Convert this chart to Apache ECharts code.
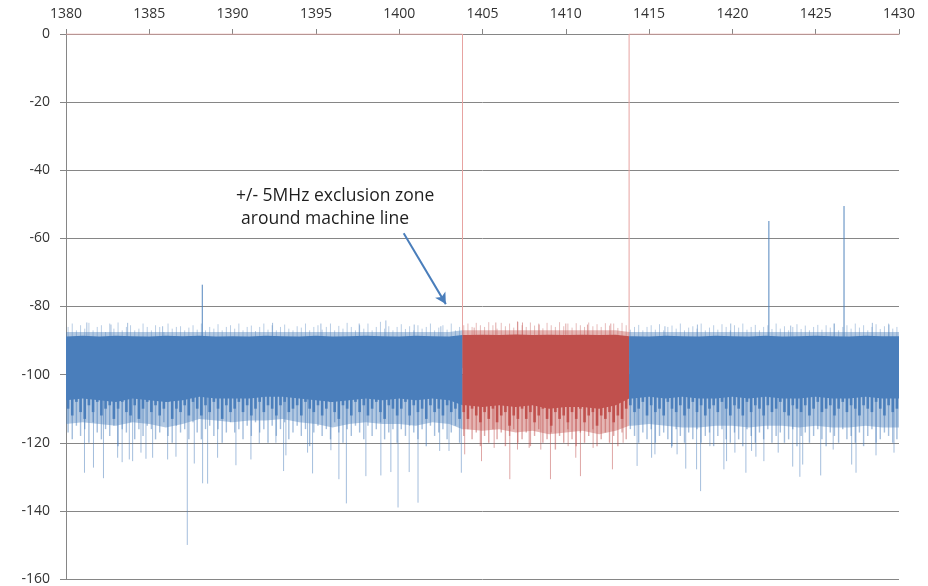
<!DOCTYPE html>
<html>
<head>
<meta charset="utf-8">
<script src="https://cdn.jsdelivr.net/npm/echarts@6/dist/echarts.min.js"></script>
<style>
  html, body { margin: 0; background: #fff; }
  #chart { width: 928px; height: 586px; }
</style>
</head>
<body>
<div id="chart"></div>
<script>
// frequency (MHz) sample points for the noise envelope
const envFreq = [1380, 1381, 1382, 1383, 1384, 1385, 1386, 1387, 1388, 1389,
  1390, 1391, 1392, 1393, 1394, 1395, 1396, 1397, 1398, 1399,
  1400, 1401, 1402, 1403, 1404, 1405, 1406, 1407, 1408, 1409,
  1410, 1411, 1412, 1413, 1414, 1415, 1416, 1417, 1418, 1419,
  1420, 1421, 1422, 1423, 1424, 1425, 1426, 1427, 1428, 1429, 1430];
// upper light edge, solid top, solid bottom, lower light edge (dB)
const fringeTop = [-87.5, -87.5, -87.5, -87.5, -87.5, -87.5, -87.5, -87.5, -87.5, -87.5,
  -87.5, -87.5, -87.5, -87.5, -87.5, -87.5, -87.5, -87.5, -87.5, -87.5,
  -87.5, -87.5, -87.5, -87.5, -87, -87, -87, -87, -87, -87,
  -87, -87, -87, -87, -87.5, -87.5, -87.5, -87.5, -87.5, -87.5,
  -87.5, -87.5, -87.5, -87.5, -87.5, -87.5, -87.5, -87.5, -87.5, -87.5, -87.5];
const coreTop = [-88.8, -88.6, -88.8, -88.6, -88.7, -88.8, -88.6, -88.7, -88.6, -88.8,
  -88.7, -88.8, -88.6, -88.7, -88.8, -88.6, -88.8, -88.7, -88.6, -88.7,
  -88.8, -88.6, -88.7, -88.8, -88.4, -88.3, -88.4, -88.2, -88.4, -88.3,
  -88.4, -88.3, -88.4, -88.3, -88.7, -88.8, -88.6, -88.7, -88.8, -88.6,
  -88.7, -88.8, -88.6, -88.8, -88.7, -88.6, -88.7, -88.8, -88.6, -88.7, -88.7];
const coreLow = [-107.5, -107, -107.5, -108, -107, -107.5, -108, -107.5, -106.5, -107,
  -107, -107, -106.5, -106.5, -107, -107.5, -108, -107.5, -107, -107.5,
  -107, -107.5, -107, -107.5, -109, -109.5, -109, -109.5, -109, -110,
  -109.5, -109.5, -110, -109, -107, -106.5, -107, -106.5, -107, -107,
  -106.5, -107, -106.5, -107, -107, -106.5, -107, -107, -106.5, -107, -107];
const fringeLow = [-114.5, -114, -114.5, -115, -114, -114.5, -115.5, -114.5, -113, -113.5,
  -114, -113.5, -113.5, -113, -114, -114.5, -115.5, -114.5, -114, -114.5,
  -114.5, -115, -114, -114.5, -116, -116.5, -116, -117, -116.5, -117.5,
  -117, -116.5, -117.5, -116.5, -115, -114.5, -115, -115.5, -115.5, -115,
  -115, -115.5, -115, -115, -115.5, -115, -115.5, -115.5, -115, -115.5, -115.5];

// line-by-line texture of the band edges, one value every 0.25 MHz from 1380.125
const textureStart = 1380.125;
const textureStep = 0.25;
const topTexture = [-86, -85, -87, -85.5, -86.5, -84.8, -87, -86, -85.5, -87.5,
  -85, -86.5, -84.7, -87, -86, -85.5, -87, -86.5, -85, -86,
  -87, -85.5, -86, -87.5, -85, -86.5, -86, -85.8, -87, -86.2,
  -85.5, -86.8, -85, -87, -86, -86.5, -85.2, -87, -86, -85.5,
  -86.5, -85, -87, -86, -85.6, -87.2, -86, -85, -86.8, -85.5,
  -87, -86, -85.3, -86.5, -87, -85.8, -86.2, -85, -87, -86,
  -85.5, -86.8, -86, -85, -87, -85.7, -86.5, -84.8, -86, -87,
  -85.5, -86.5, -85, -87, -86, -84.5, -86.5, -85.8, -87, -86,
  -85.2, -86.6, -85.8, -87, -85.5, -86.5, -86, -85, -87, -86.2,
  -85.5, -86.8, -85, -87, -86, -85.5, -85, -86, -84.8, -85.5,
  -86, -84.6, -85.5, -86.5, -84.8, -85.8, -85, -86.2, -84.5, -85.5,
  -86, -84.7, -85.6, -85, -86.4, -84.8, -85.5, -86, -84.6, -85.8,
  -85, -86.2, -84.9, -85.5, -86, -84.7, -85.8, -85.2, -86, -84.9,
  -85.6, -85, -86.3, -84.8, -85.5, -86.8, -86, -85.4, -87, -86,
  -85.5, -86.8, -85.2, -87, -86, -85.6, -86.5, -85, -87, -86.2,
  -85.8, -86.5, -85, -87, -86.2, -85.5, -86.8, -85.2, -86, -87,
  -85.5, -86.2, -85, -86.8, -86, -85.4, -87, -86, -85.5, -86.6,
  -85, -86.5, -85.8, -87, -86, -85.2, -86.6, -85.6, -87, -86,
  -85.4, -86.8, -85.5, -86.2, -85, -87, -86, -85.5, -86.5, -85,
  -86.2, -85.5, -87, -86, -85.2, -86.6, -85.8, -85, -86.5, -86];
const darkTexture = [-110, -112, -108, -111, -113, -109, -111, -108, -112, -110,
  -109, -113, -110, -108, -111, -112, -109, -113, -110, -108,
  -111, -109, -112, -110, -108, -113, -110, -111, -109, -112,
  -108, -110, -112, -109, -111, -108, -110, -113, -109, -111,
  -110, -108, -111, -109, -112, -110, -108, -111, -109, -110,
  -112, -109, -108, -111, -110, -109, -112, -108, -110, -111,
  -109, -112, -110, -108, -111, -113, -109, -110, -112, -108,
  -111, -109, -112, -110, -108, -111, -113, -109, -110, -112,
  -110, -108, -112, -109, -111, -110, -113, -109, -111, -110,
  -112, -109, -111, -110, -113, -111, -113, -110, -112, -114,
  -111, -113, -110, -114, -112, -111, -115, -112, -113, -110,
  -113, -111, -114, -112, -110, -113, -115, -111, -113, -112,
  -114, -111, -113, -110, -114, -112, -111, -115, -112, -113,
  -111, -114, -112, -113, -110, -109, -111, -110, -108, -112,
  -109, -111, -110, -112, -108, -110, -111, -109, -112, -110,
  -108, -111, -109, -112, -110, -109, -111, -108, -110, -112,
  -109, -110, -112, -108, -111, -109, -110, -112, -109, -111,
  -110, -108, -111, -112, -109, -110, -111, -109, -112, -110,
  -108, -111, -110, -109, -112, -110, -108, -111, -109, -110,
  -112, -109, -110, -111, -108, -110, -112, -109, -111, -110];
const lowTexture = [-117, -119, -115, -118, -116, -120, -114, -117, -119, -116,
  -118, -115, -121, -116, -117, -114, -119, -116, -118, -115,
  -116, -119, -117, -114, -118, -120, -115, -117, -116, -119,
  -114, -117, -119, -116, -115, -118, -116, -120, -117, -114,
  -117, -116, -119, -115, -118, -114, -117, -116, -120, -115,
  -118, -116, -114, -119, -117, -115, -118, -116, -121, -117,
  -115, -118, -116, -119, -114, -117, -120, -116, -118, -115,
  -117, -119, -115, -118, -116, -114, -119, -117, -116, -120,
  -116, -118, -115, -117, -119, -116, -121, -115, -118, -117,
  -116, -119, -117, -115, -120, -118, -116, -119, -117, -121,
  -118, -120, -116, -119, -117, -121, -118, -116, -120, -119,
  -117, -121, -118, -116, -120, -119, -117, -122, -118, -120,
  -116, -119, -121, -117, -120, -118, -116, -121, -119, -117,
  -120, -118, -121, -117, -119, -116, -118, -120, -117, -119,
  -116, -120, -118, -117, -119, -121, -116, -118, -120, -117,
  -119, -116, -120, -118, -117, -121, -118, -116, -119, -120,
  -117, -119, -121, -116, -118, -120, -117, -119, -116, -120,
  -118, -117, -120, -119, -116, -121, -118, -117, -120, -118,
  -116, -119, -121, -117, -118, -120, -116, -119, -118, -120,
  -117, -121, -118, -116, -120, -119, -117, -118, -120, -119];

// +/- 5 MHz exclusion zone
const zoneStart = 1403.8;
const zoneEnd = 1413.8;
const edgeFreq = [1380, zoneStart, zoneStart, zoneEnd, zoneEnd, 1430];
const edgeLevel = [0, 0, -98, -98, 0, 0];

// isolated downward spikes
const dipFreq = [1381.11, 1381.65, 1382.25, 1383.1, 1383.37, 1383.8, 1384.0, 1384.5, 1384.8, 1385.2,
  1386.1, 1386.6, 1387.28, 1387.7, 1388.2, 1388.5, 1389.1, 1390.2, 1391.1, 1391.6,
  1392.6, 1393.06, 1393.2, 1394.5, 1394.8, 1395.9, 1396.38, 1396.83, 1398.0, 1398.9,
  1399.5, 1399.93, 1400.6, 1401.13, 1402.43, 1402.99, 1403.73,
  1403.93, 1404.94, 1405.7, 1406.64, 1407.1, 1407.8, 1408.5, 1409.08, 1410.14, 1410.6,
  1410.88, 1411.64, 1412.8, 1413.44,
  1414.28, 1415.15, 1415.35, 1416.35, 1416.68, 1417.2, 1417.85, 1418.09, 1418.65, 1419.49,
  1419.65, 1420.15, 1420.81, 1421.15, 1421.41, 1421.89, 1422.75, 1423.62, 1424.05, 1424.22,
  1425.3, 1426.05, 1427.16, 1427.42, 1428.62, 1429.7];
const dipLevel = [-128.8, -127.3, -130.4, -124.4, -125.7, -124.9, -125.4, -122.9, -124.7, -124.4,
  -124.9, -124.1, -150.0, -126.1, -131.9, -132.0, -124.4, -126.6, -124.9, -120.2,
  -120.0, -128.3, -123.7, -122.9, -129.0, -122.2, -130.7, -137.8, -129.8, -129.6,
  -128.6, -139.0, -128.6, -137.6, -122.4, -122.4, -128.8,
  -123.4, -125.4, -121.5, -130.7, -122, -121.5, -122, -130.7, -121, -124.4,
  -129.8, -121.5, -127.8, -120,
  -126.8, -124.4, -123.4, -121.5, -123.4, -127.6, -127.8, -134.2, -121, -127.8,
  -125.4, -122.9, -128.8, -122.4, -124.1, -125.4, -122.9, -127, -130, -126.4,
  -129.6, -122, -126.4, -128.8, -123.7, -122.9];

// upward spikes
const peakFreq = [1381.25, 1382.7, 1383.7, 1385.8, 1388.18, 1392.4, 1395.3, 1397.6, 1399.2, 1400.9,
  1402.5, 1404.5, 1405.8, 1407.1, 1407.4, 1408.4, 1410.0, 1411.3, 1412.7, 1415.95,
  1417.9, 1419.9, 1422.19, 1423.5, 1426.1, 1426.7, 1428.4, 1429.4];
const peakLevel = [-84.7, -85.3, -84.8, -85.8, -73.6, -84.8, -85, -85, -84.1, -85.3,
  -85.8, -86.2, -84.7, -84.4, -84.7, -85.3, -85, -85.3, -85, -85.8,
  -85.3, -85, -54.9, -85.6, -85, -50.5, -84.8, -85.3];

const segStart = [1380, zoneStart, zoneEnd];
const segEnd = [zoneStart, zoneEnd, 1430];

const BLUE = '#4a7ebb';
const RED = '#c0504d';

function nearestIdx(f) {
  let best = 0;
  envFreq.forEach((v, i) => { if (Math.abs(v - f) < Math.abs(envFreq[best] - f)) best = i; });
  return best;
}

function envelope(lo, hi, upper, lower, api) {
  const a = nearestIdx(lo), b = nearestIdx(hi);
  const inner = [];
  envFreq.forEach((f, i) => { if (f > lo && f < hi) inner.push(i); });
  const pts = [api.coord([lo, upper[a]])];
  inner.forEach(i => pts.push(api.coord([envFreq[i], upper[i]])));
  pts.push(api.coord([hi, upper[b]]), api.coord([hi, lower[b]]));
  inner.slice().reverse().forEach(i => pts.push(api.coord([envFreq[i], lower[i]])));
  pts.push(api.coord([lo, lower[a]]));
  return pts;
}

function inZone(f) { return f > zoneStart && f < zoneEnd; }

// one vertical stroke per item: [freq, level, base]
function stroke(style) {
  return (params, api) => {
    const f = api.value(0);
    const p0 = api.coord([f, api.value(2)]), p1 = api.coord([f, api.value(1)]);
    return {
      type: 'line',
      shape: { x1: p0[0], y1: p0[1], x2: p1[0], y2: p1[1] },
      style: style(f, api.value(1))
    };
  };
}

const texFreq = lowTexture.map((v, i) => textureStart + i * textureStep);

const chart = echarts.init(document.getElementById('chart'));
chart.setOption({
  animation: false,
  grid: { left: 66, right: 29, top: 34, bottom: 6 },
  xAxis: {
    type: 'value',
    position: 'top',
    min: 1380,
    max: 1430,
    interval: 5,
    axisLine: { lineStyle: { color: '#868686' } },
    axisTick: { length: 5, lineStyle: { color: '#868686' } },
    axisLabel: { color: '#333', fontSize: 14, fontFamily: 'Open Sans', margin: 13, formatter: v => String(v) },
    splitLine: { show: false }
  },
  yAxis: {
    type: 'value',
    min: -160,
    max: 0,
    interval: 20,
    axisLine: { show: true, lineStyle: { color: '#868686' } },
    axisTick: { show: true, length: 6, lineStyle: { color: '#868686' } },
    axisLabel: { color: '#333', fontSize: 14, fontFamily: 'Open Sans', margin: 16 },
    splitLine: { lineStyle: { color: '#868686' } }
  },
  graphic: [
    { type: 'text', left: 236, top: 187, style: { text: '+/- 5MHz exclusion zone', font: '17.5px "Open Sans"', fill: '#1e1e1e' } },
    { type: 'text', left: 241, top: 210, style: { text: 'around machine line', font: '17.5px "Open Sans"', fill: '#1e1e1e' } }
  ],
  series: [
    {
      // exclusion zone trace: sits at 0 outside the zone
      type: 'line',
      z: 1,
      data: edgeFreq.map((f, i) => [f, edgeLevel[i]]),
      showSymbol: false,
      lineStyle: { color: '#e7a3a1', width: 1 },
      markLine: {
        silent: true,
        symbol: ['none', 'arrow'],
        symbolSize: [9, 11],
        label: { show: false },
        lineStyle: { color: BLUE, width: 2, type: 'solid' },
        data: [[{ coord: [1400.27, -58.5] }, { coord: [1402.8, -79.3] }]]
      }
    },
    {
      // light outer band
      type: 'custom',
      z: 2,
      data: segStart.map((s, i) => [s, segEnd[i], -100]),
      encode: { x: [0, 1], y: 2 },
      renderItem: (params, api) => {
        const i = params.dataIndex;
        return {
          type: 'polygon',
          shape: { points: envelope(segStart[i], segEnd[i], fringeTop, fringeLow, api) },
          style: { fill: i === 1 ? 'rgba(192,80,77,0.42)' : 'rgba(74,126,187,0.42)' }
        };
      }
    },
    {
      // light strokes below the band
      type: 'custom',
      z: 3,
      data: texFreq.map((f, i) => [f, lowTexture[i], -100]),
      encode: { x: 0, y: 1 },
      renderItem: stroke(f => ({ stroke: inZone(f) ? 'rgba(192,80,77,0.5)' : 'rgba(74,126,187,0.5)', lineWidth: 1.4 }))
    },
    {
      // light strokes above the band
      type: 'custom',
      z: 3,
      data: texFreq.map((f, i) => [f, topTexture[i], -95]),
      encode: { x: 0, y: 1 },
      renderItem: stroke(f => ({ stroke: inZone(f) ? 'rgba(192,80,77,0.38)' : 'rgba(74,126,187,0.38)', lineWidth: 1 }))
    },
    {
      // isolated spikes
      type: 'custom',
      z: 3,
      data: dipFreq.map((f, i) => [f, dipLevel[i], -105]).concat(peakFreq.map((f, i) => [f, peakLevel[i], -95])),
      encode: { x: 0, y: 1 },
      renderItem: stroke((f, v) => ({
        stroke: inZone(f) ? 'rgba(192,80,77,0.5)' : (v > -80 ? 'rgba(74,126,187,0.95)' : 'rgba(74,126,187,0.5)'),
        lineWidth: 1
      }))
    },
    {
      // dark jagged lower edge of the band
      type: 'custom',
      z: 4,
      data: texFreq.map((f, i) => [f, darkTexture[i], -100]),
      encode: { x: 0, y: 1 },
      renderItem: stroke(f => ({ stroke: inZone(f) ? RED : BLUE, lineWidth: 2.6 }))
    },
    {
      // solid core of the noise band
      type: 'custom',
      z: 5,
      data: segStart.map((s, i) => [s, segEnd[i], -100]),
      encode: { x: [0, 1], y: 2 },
      renderItem: (params, api) => {
        const i = params.dataIndex;
        return {
          type: 'polygon',
          shape: { points: envelope(segStart[i], segEnd[i], coreTop, coreLow, api) },
          style: { fill: i === 1 ? RED : BLUE }
        };
      }
    }
  ]
});
</script>
</body>
</html>
